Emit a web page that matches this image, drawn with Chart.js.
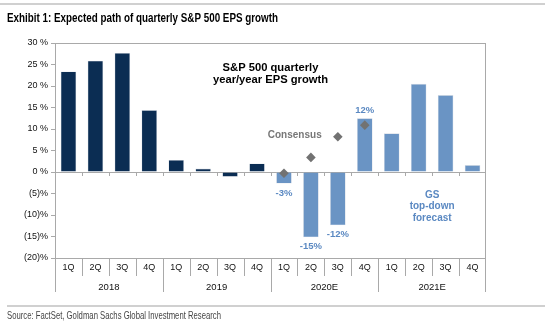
<!DOCTYPE html>
<html>
<head>
<meta charset="utf-8">
<script src="https://cdn.jsdelivr.net/npm/chart.js@4.4.1/dist/chart.umd.min.js"></script>
<style>
  html, body { margin: 0; padding: 0; background: #fff; }
  #wrap { position: relative; width: 550px; height: 325px; }
</style>
</head>
<body>
<div id="wrap"><canvas id="chartEps" width="550" height="325"></canvas></div>
<script>
/* Datos */
const quarters = ['1Q', '2Q', '3Q', '4Q', '1Q', '2Q', '3Q', '4Q', '1Q', '2Q', '3Q', '4Q', '1Q', '2Q', '3Q', '4Q'];
const years = ['2018', '2019', '2020E', '2021E'];
const epsGrowth = [23.4, 25.9, 27.7, 14.4, 2.8, 0.8, -1.1, 2.0, -2.7, -15.2, -12.4, 12.5, 9.0, 20.5, 17.9, 1.6];
const consensus = [null, null, null, null, null, null, null, null, -0.3, 3.4, 8.2, 10.9, null, null, null, null];
const valueLabels = [null, null, null, null, null, null, null, null, '-3%', '-15%', '-12%', '12%', null, null, null, null];
const yTicks = [-20, -15, -10, -5, 0, 5, 10, 15, 20, 25, 30];

const navy = '#0b2d53';
const lightBlue = '#6a94c4';
const labelBlue = '#5b89c2';
const gridGray = '#a9a9a9';

let barColors = epsGrowth.map((v, i) => (i < 8 ? navy : lightBlue));

const fmtPct = (v) => (v >= 0 ? v + ' %' : '(' + -v + ')%');

// texto estrecho (no hay Arial Narrow): se comprime al ancho dado
const narrowText = (ctx, text, x, y, width) => {
  const w = ctx.measureText(text).width;
  ctx.save();
  ctx.translate(x, y);
  ctx.scale(width / w, 1);
  ctx.fillText(text, 0, 0);
  ctx.restore();
};

/* Dibujos extra: marco, ejes de categorias, textos */
const extras = {
  id: 'extras',
  beforeDatasetsDraw(chart) {
    const { ctx, chartArea: a, scales } = chart;
    const y = scales.y;
    const step = (a.right - a.left) / quarters.length;
    const y0 = y.getPixelForValue(0);

    ctx.save();
    ctx.strokeStyle = gridGray;
    ctx.lineWidth = 1;
    // marco
    ctx.strokeRect(a.left + 0.5, a.top + 0.5, a.right - a.left - 1, a.bottom - a.top);
    // linea cero con marcas
    ctx.beginPath();
    ctx.moveTo(a.left, y0 + 0.5);
    ctx.lineTo(a.right, y0 + 0.5);
    for (let i = 1; i < quarters.length; i++) {
      const px = Math.round(a.left + step * i) + 0.5;
      ctx.moveTo(px, y0);
      ctx.lineTo(px, y0 + 4);
    }
    ctx.stroke();
    ctx.restore();
  },
  afterDraw(chart) {
    const { ctx, chartArea: a, scales } = chart;
    const y = scales.y;
    const step = (a.right - a.left) / quarters.length;

    ctx.save();
    // lineas superior e inferior
    ctx.fillStyle = '#d0d0d0';
    ctx.fillRect(0, 3, 545, 2);
    ctx.fillRect(7, 305, 538, 2);

    // titulo y fuente
    ctx.fillStyle = '#000';
    ctx.textBaseline = 'middle';
    ctx.textAlign = 'left';
    ctx.font = 'bold 13.5px "Liberation Sans", Arial';
    narrowText(ctx, 'Exhibit 1: Expected path of quarterly S&P 500 EPS growth', 7, 18.5, 271);
    ctx.fillStyle = '#444';
    ctx.font = '10.5px "Liberation Sans", Arial';
    narrowText(ctx, 'Source: FactSet, Goldman Sachs Global Investment Research', 7, 316.5, 214);

    // divisores de categorias
    ctx.strokeStyle = gridGray;
    ctx.lineWidth = 1;
    ctx.beginPath();
    for (let i = 0; i <= quarters.length; i++) {
      const px = Math.round(a.left + step * i) + (i === quarters.length ? -0.5 : 0.5);
      ctx.moveTo(px, a.bottom);
      ctx.lineTo(px, i % 4 === 0 ? 292 : 276);
    }
    ctx.stroke();

    // etiquetas de trimestre y ano
    ctx.fillStyle = '#111';
    ctx.textAlign = 'center';
    ctx.font = '9px "Liberation Sans", Arial';
    quarters.forEach((q, i) => {
      ctx.fillText(q, a.left + step * (i + 0.5), 268);
    });
    ctx.font = '9.5px "Liberation Sans", Arial';
    years.forEach((yr, i) => {
      ctx.fillText(yr, a.left + step * (i * 4 + 2), 287);
    });

    // etiquetas de valor
    const meta = chart.getDatasetMeta(0);
    ctx.fillStyle = labelBlue;
    ctx.font = 'bold 9.5px "Liberation Sans", Arial';
    valueLabels.forEach((lbl, i) => {
      if (!lbl) return;
      const bar = meta.data[i];
      const off = epsGrowth[i] < 0 ? 9.5 : -8;
      ctx.fillText(lbl, bar.x, bar.y + off);
    });

    // anotaciones
    const xPos = (idx) => scales.x.getPixelForValue(idx);
    ctx.fillStyle = '#000';
    ctx.font = 'bold 11.2px "Liberation Sans", Arial';
    ctx.fillText('S&P 500 quarterly', (xPos(7) + xPos(8)) / 2, y.getPixelForValue(24.3));
    ctx.fillText('year/year EPS growth', (xPos(7) + xPos(8)) / 2, y.getPixelForValue(21.3));

    ctx.fillStyle = '#777';
    ctx.font = 'bold 10px "Liberation Sans", Arial';
    ctx.fillText('Consensus', xPos(8.4), y.getPixelForValue(8.6));

    ctx.fillStyle = labelBlue;
    ['GS', 'top-down', 'forecast'].forEach((t, i) => {
      ctx.fillText(t, (xPos(13) + xPos(14)) / 2, y.getPixelForValue(-5.3 - i * 2.7));
    });
    ctx.restore();
  },
};

const ctx = document.getElementById('chartEps').getContext('2d');
const chartEps = new Chart(ctx, {
  type: 'bar',
  plugins: [extras],
  data: {
    labels: quarters.map((q, i) => q + ' ' + years[Math.floor(i / 4)]),
    datasets: [
      {
        type: 'bar',
        data: epsGrowth,
        backgroundColor: barColors,
        borderColor: '#d4dae2',
        borderWidth: 0.6,
        barPercentage: 0.58,
        categoryPercentage: 1,
        order: 2,
      },
      {
        type: 'line',
        data: consensus,
        showLine: false,
        pointStyle: 'rectRot',
        pointRadius: 4.8,
        pointBackgroundColor: '#727272',
        pointBorderColor: '#727272',
        pointBorderWidth: 0,
        order: 1,
      },
    ],
  },
  options: {
    responsive: false,
    animation: false,
    devicePixelRatio: 1,
    layout: {
      padding: { top: 43, right: 64, left: 0, bottom: 0 },
    },
    scales: {
      x: {
        offset: true,
        grid: { display: false },
        border: { display: false },
        ticks: { display: false },
        afterFit: (s) => {
          s.height = 67;
        },
      },
      y: {
        min: -20,
        max: 30,
        afterBuildTicks: (s) => {
          s.ticks = yTicks.map((v) => ({ value: v }));
        },
        grid: {
          drawOnChartArea: false,
          drawTicks: true,
          tickLength: 4,
          color: gridGray,
        },
        border: { display: true, color: gridGray },
        ticks: {
          padding: 3,
          color: '#111',
          font: { family: '"Liberation Sans", Arial', size: 9 },
          callback: (v) => fmtPct(v),
        },
        afterFit: (s) => {
          s.width = 55;
        },
      },
    },
    plugins: {
      legend: { display: false },
      tooltip: { enabled: false },
    },
  },
});
</script>
</body>
</html>
